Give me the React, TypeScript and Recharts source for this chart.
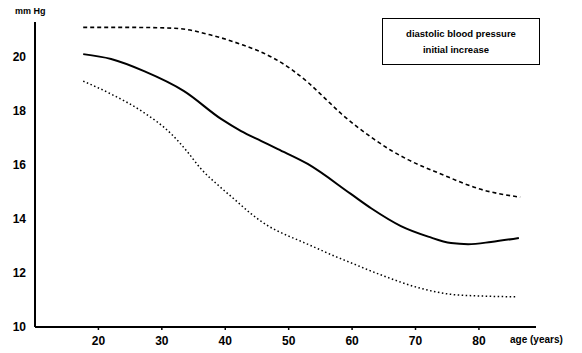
import { Line, LineChart, XAxis, YAxis } from "recharts";

// ages (years) and mm Hg values
const upperAges = [17.6, 25, 32, 38, 42.5, 47.7, 50.4, 53.1, 55.6, 58.3, 60.9, 63.5, 66.1, 68.8, 74, 80.3, 86.5];
const upperVals = [21.1, 21.1, 21.07, 20.8, 20.47, 19.95, 19.55, 19.05, 18.5, 17.9, 17.4, 16.95, 16.55, 16.2, 15.67, 15.1, 14.81];

const midAges = [17.6, 22, 27.2, 33.5, 39.4, 42.5, 45.7, 48.3, 53, 59.8, 63, 67.7, 72, 75.6, 78.3, 81.9, 86.3];
const midVals = [20.11, 19.93, 19.48, 18.74, 17.7, 17.26, 16.89, 16.59, 16.04, 14.93, 14.4, 13.74, 13.35, 13.11, 13.07, 13.15, 13.3];

const lowAges = [17.6, 22, 26.8, 31.5, 34, 36.2, 38.9, 41.4, 44.1, 46.8, 49.3, 52, 54.6, 57.2, 59.8, 65, 70.4, 75.6, 80, 86.1];
const lowVals = [19.11, 18.63, 18.0, 17.15, 16.5, 15.85, 15.25, 14.74, 14.19, 13.74, 13.44, 13.17, 12.9, 12.63, 12.38, 11.89, 11.46, 11.21, 11.15, 11.12];

const xTicks = [20, 30, 40, 50, 60, 70, 80];
const yTicks = [10, 12, 14, 16, 18, 20];

const toPoints = (ages: number[], vals: number[]) =>
  ages.map((age, i) => ({ age, value: vals[i] }));

const font = "'Liberation Sans', Arial, sans-serif";
const tickStyle = { fontSize: 12, fontWeight: 700, fill: "#000", fontFamily: font };

export default function App() {
  return (
    <div
      style={{
        position: "absolute",
        left: 0,
        top: 0,
        width: 582,
        height: 353,
        background: "#fff",
        fontFamily: font,
        fontWeight: 700,
        color: "#000",
      }}
    >
      <LineChart width={582} height={353} margin={{ top: 22, right: 46, left: 0, bottom: 0 }}>
        <XAxis
          type="number"
          dataKey="age"
          domain={[10, 89]}
          ticks={xTicks}
          allowDataOverflow
          height={26}
          axisLine={{ stroke: "#000", strokeWidth: 2 }}
          tickLine={{ stroke: "#000", strokeWidth: 1.5 }}
          tickSize={3}
          tickMargin={6}
          tick={tickStyle}
        />
        <YAxis
          type="number"
          dataKey="value"
          domain={[10, 21.3]}
          ticks={yTicks}
          allowDataOverflow
          width={35}
          axisLine={{ stroke: "#000", strokeWidth: 2 }}
          tickLine={false}
          tickSize={0}
          tickMargin={9}
          tick={tickStyle}
        />
        <Line
          data={toPoints(upperAges, upperVals)}
          dataKey="value"
          type="monotone"
          stroke="#000"
          strokeWidth={1.6}
          strokeDasharray="4 3"
          dot={false}
          isAnimationActive={false}
        />
        <Line
          data={toPoints(midAges, midVals)}
          dataKey="value"
          type="monotone"
          stroke="#000"
          strokeWidth={2}
          dot={false}
          isAnimationActive={false}
        />
        <Line
          data={toPoints(lowAges, lowVals)}
          dataKey="value"
          type="monotone"
          stroke="#000"
          strokeWidth={1.5}
          strokeDasharray="1.5 2.5"
          dot={false}
          isAnimationActive={false}
        />
      </LineChart>

      <div style={{ position: "absolute", left: 15, top: 6, fontSize: 9 }}>mm Hg</div>
      <div style={{ position: "absolute", left: 510, top: 334, fontSize: 10 }}>age (years)</div>
      <div
        style={{
          position: "absolute",
          left: 382,
          top: 18,
          width: 158,
          height: 47,
          boxSizing: "border-box",
          border: "1.5px solid #000",
          fontSize: 9.5,
          lineHeight: "16px",
          paddingTop: 7,
          textAlign: "center",
        }}
      >
        <div>diastolic blood pressure</div>
        <div style={{ marginLeft: -10 }}>initial increase</div>
      </div>
    </div>
  );
}
